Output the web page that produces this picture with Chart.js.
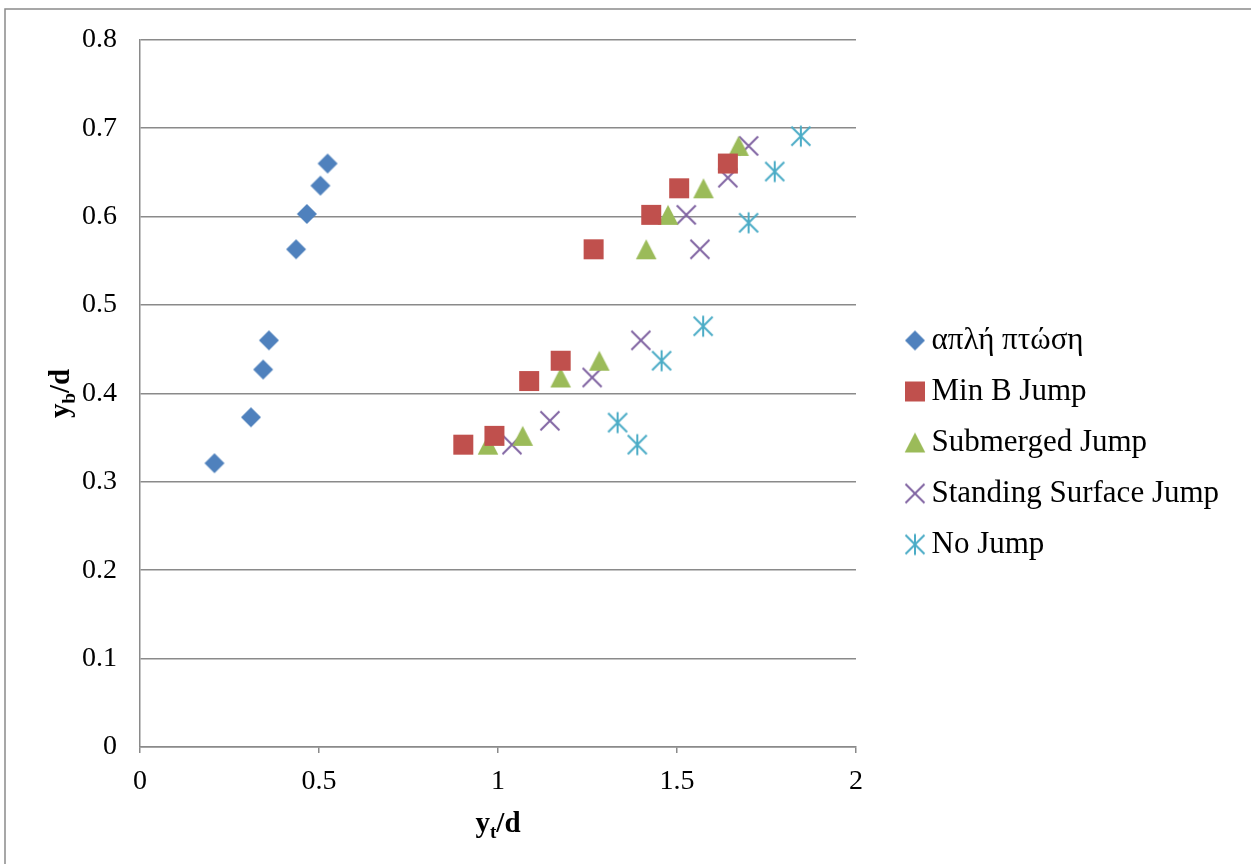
<!DOCTYPE html>
<html>
<head>
<meta charset="utf-8">
<script src="https://cdn.jsdelivr.net/npm/chart.js@4.4.1/dist/chart.umd.min.js"></script>
<style>
  html, body { margin: 0; padding: 0; background: #fff; }
  #wrap { width: 1251px; height: 864px; position: relative; }
</style>
</head>
<body>
<div id="wrap"><canvas id="chart" width="1251" height="864"></canvas></div>
<script>
// ---- data: y_t/d (x) against y_b/d (y) for each flow regime ----
const SERIES_NAMES = ['απλή πτώση', 'Min B Jump', 'Submerged Jump', 'Standing Surface Jump', 'No Jump'];

const SIMPLE_FALL_X = [0.208, 0.310, 0.344, 0.360, 0.436, 0.466, 0.504, 0.524];
const SIMPLE_FALL_Y = [0.321, 0.373, 0.427, 0.460, 0.563, 0.603, 0.635, 0.660];

const MIN_B_X = [0.903, 0.990, 1.087, 1.175, 1.267, 1.428, 1.506, 1.642];
const MIN_B_Y = [0.342, 0.352, 0.414, 0.437, 0.563, 0.602, 0.632, 0.660];

const SUBMERGED_X = [0.972, 1.069, 1.175, 1.283, 1.414, 1.475, 1.574, 1.672];
const SUBMERGED_Y = [0.342, 0.352, 0.418, 0.437, 0.563, 0.602, 0.632, 0.680];

const STANDING_X = [1.039, 1.145, 1.263, 1.399, 1.564, 1.526, 1.642, 1.700];
const STANDING_Y = [0.342, 0.369, 0.418, 0.460, 0.563, 0.602, 0.644, 0.680];

const NO_JUMP_X = [1.334, 1.389, 1.457, 1.573, 1.700, 1.773, 1.846];
const NO_JUMP_Y = [0.367, 0.342, 0.437, 0.476, 0.593, 0.651, 0.691];

const X_TICKS = [0, 0.5, 1, 1.5, 2];
const Y_TICKS = [0, 0.1, 0.2, 0.3, 0.4, 0.5, 0.6, 0.7, 0.8];

// axis titles: [base, subscript, rest]
const X_TITLE = ['y', 't', '/d'];
const Y_TITLE = ['y', 'b', '/d'];

// ---- styling ----
const SERIF = '"Liberation Serif", "Times New Roman", serif';
const GRID = '#8a8a8a';
const COLORS = ['#4F81BD', '#C0504D', '#9BBB59', '#8064A2', '#4BACC6'];
const SHAPES = ['diamond', 'square', 'triangle', 'x', 'asterisk'];

const LEGEND_WIDTH = 395;   // box reserved right of the plot
const LEGEND_LEFT = 894;
const LEGEND_TOP = 305;

function pairs(xs, ys) {
  return xs.map((x, i) => ({ x: x, y: ys[i] }));
}

// marker glyphs shared by the plot and the legend
function markerCanvas(shape, color) {
  const S = 26, c = S / 2;
  const cv = document.createElement('canvas');
  cv.width = S; cv.height = S;
  const g = cv.getContext('2d');
  g.fillStyle = color;
  g.strokeStyle = color;
  g.lineWidth = 2;
  g.beginPath();
  switch (shape) {
    case 'diamond':
      g.moveTo(c, c - 10); g.lineTo(c + 10, c); g.lineTo(c, c + 10); g.lineTo(c - 10, c);
      g.closePath(); g.fill();
      break;
    case 'square':
      g.rect(c - 10, c - 10, 20, 20); g.fill();
      break;
    case 'triangle':
      g.moveTo(c, c - 10); g.lineTo(c + 10.3, c + 10); g.lineTo(c - 10.3, c + 10);
      g.closePath(); g.fill();
      break;
    case 'x':
      g.moveTo(c - 9.5, c - 9.5); g.lineTo(c + 9.5, c + 9.5);
      g.moveTo(c + 9.5, c - 9.5); g.lineTo(c - 9.5, c + 9.5);
      g.stroke();
      break;
    case 'asterisk':
      g.moveTo(c - 9.5, c - 9.5); g.lineTo(c + 9.5, c + 9.5);
      g.moveTo(c + 9.5, c - 9.5); g.lineTo(c - 9.5, c + 9.5);
      g.moveTo(c, c - 10.5); g.lineTo(c, c + 10.5);
      g.stroke();
      break;
  }
  return cv;
}

const MARKERS = SHAPES.map((s, i) => markerCanvas(s, COLORS[i]));

const SERIES_POINTS = [
  pairs(SIMPLE_FALL_X, SIMPLE_FALL_Y),
  pairs(MIN_B_X, MIN_B_Y),
  pairs(SUBMERGED_X, SUBMERGED_Y),
  pairs(STANDING_X, STANDING_Y),
  pairs(NO_JUMP_X, NO_JUMP_Y)
];

const datasets = SERIES_NAMES.map((name, i) => ({
  label: name,
  data: SERIES_POINTS[i],
  pointStyle: MARKERS[i],
  pointRadius: 10,
  backgroundColor: COLORS[i],
  borderColor: COLORS[i],
  showLine: false
}));

// axis title with a subscript
function drawTitle(ctx, parts, cx, cy, rotate) {
  const main = 'bold 29px ' + SERIF;
  const sub = 'bold 19px ' + SERIF;
  ctx.save();
  ctx.translate(cx, cy);
  if (rotate) ctx.rotate(-Math.PI / 2);
  ctx.fillStyle = '#000';
  ctx.textAlign = 'left';
  ctx.textBaseline = 'alphabetic';
  ctx.font = main;
  const w0 = ctx.measureText(parts[0]).width;
  const w2 = ctx.measureText(parts[2]).width;
  ctx.font = sub;
  const w1 = ctx.measureText(parts[1]).width;
  let x = -(w0 + w1 + w2) / 2;
  ctx.font = main; ctx.fillText(parts[0], x, 0); x += w0;
  ctx.font = sub; ctx.fillText(parts[1], x, 6); x += w1;
  ctx.font = main; ctx.fillText(parts[2], x, 0);
  ctx.restore();
}

const frame = {
  id: 'frame',
  beforeDraw(chart) {
    const ctx = chart.ctx;
    ctx.save();
    ctx.strokeStyle = GRID;
    ctx.lineWidth = 1.5;
    ctx.strokeRect(5, 9, chart.width + 20, chart.height + 20);
    ctx.restore();
  },
  afterDraw(chart) {
    const a = chart.chartArea;
    drawTitle(chart.ctx, X_TITLE, (a.left + a.right) / 2, 832, false);
    drawTitle(chart.ctx, Y_TITLE, 69, (a.top + a.bottom) / 2, true);
  }
};

const legendPlacement = {
  id: 'legendPlacement',
  beforeLayout(chart) {
    const lg = chart.legend;
    if (lg && !lg._fixedWidth) {
      const fit = lg.fit.bind(lg);
      lg.fit = function () { fit(); this.width = LEGEND_WIDTH; };
      lg._fixedWidth = true;
    }
  },
  afterLayout(chart) {
    const lg = chart.legend;
    if (!lg) return;
    const dx = LEGEND_LEFT - lg.left;
    lg.left += dx; lg.right += dx;
    lg.top = LEGEND_TOP;
  }
};

new Chart(document.getElementById('chart'), {
  type: 'scatter',
  data: { datasets: datasets },
  plugins: [frame, legendPlacement],
  options: {
    responsive: false,
    animation: false,
    devicePixelRatio: 1,
    events: [],
    layout: { padding: { top: 38, left: 0, right: 0, bottom: 0 } },
    scales: {
      x: {
        type: 'linear',
        position: 'bottom',
        min: 0,
        max: 2,
        afterBuildTicks: s => { s.ticks = X_TICKS.map(v => ({ value: v })); },
        afterFit: s => { s.height = 117; },
        grid: { display: true, drawOnChartArea: false, drawTicks: true, tickLength: 6, color: GRID, lineWidth: 1.5 },
        border: { display: true, color: GRID, width: 1.5 },
        ticks: {
          color: '#000',
          font: { family: SERIF, size: 28 },
          padding: 12,
          maxRotation: 0,
          autoSkip: false,
          callback: v => String(v)
        },
        title: { display: false }
      },
      y: {
        type: 'linear',
        min: 0,
        max: 0.8,
        afterBuildTicks: s => { s.ticks = Y_TICKS.map(v => ({ value: v })); },
        afterFit: s => { s.width = 140; },
        grid: { display: true, drawTicks: false, color: GRID, lineWidth: 1.5 },
        border: { display: true, color: GRID, width: 1.5 },
        ticks: {
          color: '#000',
          font: { family: SERIF, size: 28 },
          padding: 23,
          autoSkip: false,
          callback: v => String(v)
        },
        title: { display: false }
      }
    },
    plugins: {
      tooltip: { enabled: false },
      legend: {
        display: true,
        position: 'right',
        align: 'start',
        labels: {
          usePointStyle: true,
          boxWidth: 2,
          boxHeight: 10,
          padding: 20,
          color: '#000',
          font: { family: SERIF, size: 31 },
          generateLabels(chart) {
            return chart.data.datasets.map((ds, i) => ({
              text: ds.label,
              pointStyle: ds.pointStyle,
              fillStyle: ds.backgroundColor,
              strokeStyle: ds.borderColor,
              lineWidth: 0,
              hidden: !chart.isDatasetVisible(i),
              datasetIndex: i
            }));
          }
        }
      }
    }
  }
});
</script>
</body>
</html>
